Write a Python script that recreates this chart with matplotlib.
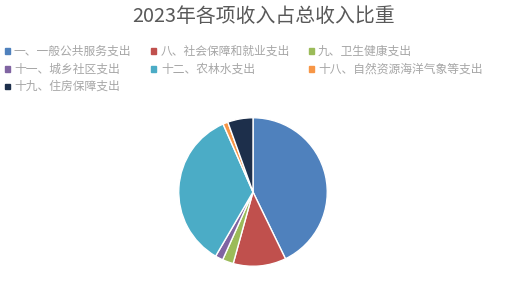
import matplotlib.pyplot as plt
from matplotlib.patches import Rectangle

plt.rcParams['font.family'] = ['Noto Sans CJK SC', 'DejaVu Sans']

# shares (percent)
labels = ["一、一般公共服务支出", "八、社会保障和就业支出", "九、卫生健康支出",
          "十一、城乡社区支出", "十二、农林水支出", "十八、自然资源海洋气象等支出",
          "十九、住房保障支出"]
shares = [42.8, 11.5, 2.4, 1.7, 35.0, 1.1, 5.5]
colors = ["#4F81BD", "#C0504D", "#9BBB59", "#8064A2", "#4BACC6", "#F79646", "#1D2F4B"]

W, H = 506, 288
fig = plt.figure(figsize=(W / 100, H / 100), dpi=100)

fig.text(264 / W, 1 - 17 / H, "2023年各项收入占总收入比重", ha="center", va="center",
         fontsize=14.3, color="#595959")

# pie: centre (253, 192) px, radius 75 px
cx, cy, r = 253, 192, 75
ax = fig.add_axes([(cx - r) / W, (H - cy - r) / H, 2 * r / W, 2 * r / H])
ax.pie(shares, colors=colors, startangle=90, counterclock=False,
       wedgeprops=dict(edgecolor="white", linewidth=1.0))
ax.set_xlim(-1.01, 1.01)
ax.set_ylim(-1.01, 1.01)
ax.set_aspect("equal")
ax.axis("off")

# legend laid out like the original (row-wise, 3 columns)
col_x = [7, 154, 311]
row_y = [51, 69, 86]
for i, (lab, c) in enumerate(zip(labels, colors)):
    x = col_x[i % 3]
    y = row_y[i // 3]
    fig.patches.append(Rectangle(((x - 2.5) / W, 1 - (y + 2.5) / H), 5 / W, 5 / H,
                                 transform=fig.transFigure, color=c))
    fig.text((x + 7) / W, 1 - y / H, lab, ha="left", va="center",
             fontsize=8.5, color="#A6A6A6")

fig.savefig("out.png", dpi=100)
